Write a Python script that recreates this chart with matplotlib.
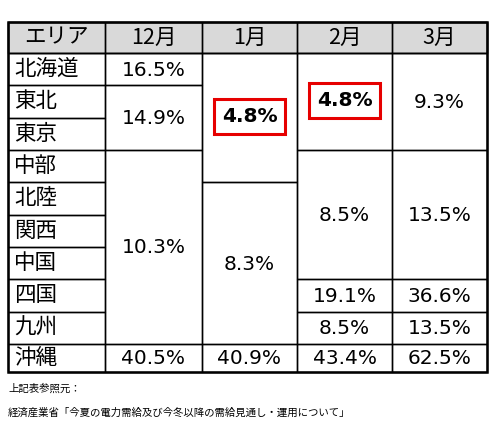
import matplotlib
matplotlib.use("Agg")
import matplotlib.pyplot as plt
from matplotlib.patches import Rectangle

plt.rcParams['font.family'] = ['Noto Sans CJK JP', 'DejaVu Sans']

headers = ["エリア", "12月", "1月", "2月", "3月"]
areas = ["北海道", "東北", "東京", "中部", "北陸", "関西", "中国", "四国", "九州", "沖縄"]
# (start_row, span, value, highlighted)
col_dec = [(0, 1, "16.5%", False), (1, 2, "14.9%", False), (3, 6, "10.3%", False), (9, 1, "40.5%", False)]
col_jan = [(0, 4, "4.8%", True), (4, 5, "8.3%", False), (9, 1, "40.9%", False)]
col_feb = [(0, 3, "4.8%", True), (3, 4, "8.5%", False), (7, 1, "19.1%", False), (8, 1, "8.5%", False), (9, 1, "43.4%", False)]
col_mar = [(0, 3, "9.3%", False), (3, 4, "13.5%", False), (7, 1, "36.6%", False), (8, 1, "13.5%", False), (9, 1, "62.5%", False)]
source_lines = ["上記表参照元：", "経済産業省「今夏の電力需給及び今冬以降の需給見通し・運用について」"]

fig = plt.figure(figsize=(4.95, 4.4), dpi=100)
ax = fig.add_axes([0, 0, 1, 1])
ax.set_xlim(0, 495); ax.set_ylim(440, 0); ax.axis('off')

xs = [8, 105, 202, 297, 392, 487]
ytop, yh = 22, 53
rows = [53 + i * 32.33 for i in range(10)] + [372]
fs = 15.5
nfs = 14.5
num_family = ['DejaVu Sans']

ax.add_patch(Rectangle((xs[0], ytop), xs[-1] - xs[0], yh - ytop, facecolor='#d9d9d9', edgecolor='black', lw=1))
for i, h in enumerate(headers):
    ax.add_patch(Rectangle((xs[i], ytop), xs[i+1] - xs[i], yh - ytop, fill=False, edgecolor='black', lw=1))
    ax.text((xs[i] + xs[i+1]) / 2, (ytop + yh) / 2, h, ha='center', va='center', fontsize=fs)
for r, a in enumerate(areas):
    ax.add_patch(Rectangle((xs[0], rows[r]), xs[1] - xs[0], rows[r+1] - rows[r], fill=False, edgecolor='black', lw=1))
    ax.text(xs[0] + 6, (rows[r] + rows[r+1]) / 2, a, ha='left', va='center', fontsize=fs)

for c, col in enumerate([col_dec, col_jan, col_feb, col_mar], start=1):
    for start, span, val, hl in col:
        y0, y1 = rows[start], rows[start + span]
        ax.add_patch(Rectangle((xs[c], y0), xs[c+1] - xs[c], y1 - y0, fill=False, edgecolor='black', lw=1))
        cx = (xs[c] + xs[c+1]) / 2
        cy = (y0 + y1) / 2 + 1
        if hl:
            ax.text(cx, cy - 2, val, ha='center', va='center', fontsize=nfs, fontweight='bold', family=num_family,
                    bbox=dict(boxstyle='square,pad=0.4', facecolor='white', edgecolor='#e60000', lw=2.2))
        else:
            ax.text(cx, cy, val, ha='center', va='center', fontsize=nfs, family=num_family)

ax.add_patch(Rectangle((xs[0], ytop), xs[-1] - xs[0], rows[-1] - ytop, fill=False, edgecolor='black', lw=1.8))

ax.text(8, 389, source_lines[0], ha='left', va='center', fontsize=7.5)
ax.text(8, 413, source_lines[1], ha='left', va='center', fontsize=7.5)

fig.savefig("out.png", dpi=100)
